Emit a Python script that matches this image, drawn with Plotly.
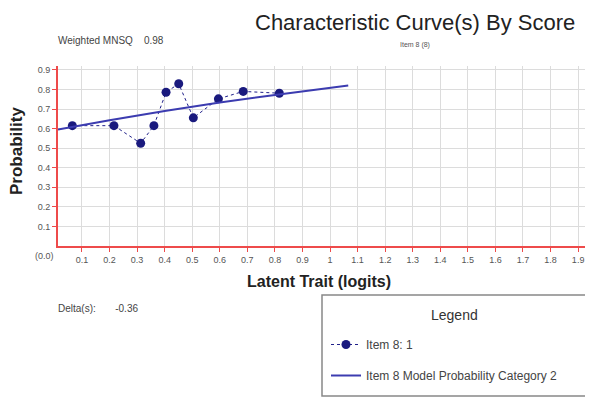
import plotly.graph_objects as go

# Observed data (Item 8: 1)
obs_x = [0.065, 0.216, 0.313, 0.361, 0.405, 0.451, 0.504, 0.595, 0.685, 0.816]
obs_y = [0.615, 0.615, 0.525, 0.615, 0.786, 0.829, 0.655, 0.752, 0.790, 0.781]

# Model probability curve (Category 2)
model_x = [0.013, 0.2, 0.4, 0.6, 0.8, 1.066]
model_y = [0.595, 0.643, 0.690, 0.733, 0.772, 0.820]

x_tickvals = [round(0.1 * i, 1) for i in range(1, 21)]
x_ticktext = ["0.1", "0.2", "0.3", "0.4", "0.5", "0.6", "0.7", "0.8", "0.9", "1",
              "1.1", "1.2", "1.3", "1.4", "1.5", "1.6", "1.7", "1.8", "1.9", "2"]
y_tickvals = [round(0.1 * i, 1) for i in range(1, 10)]
y_ticktext = ["0.1", "0.2", "0.3", "0.4", "0.5", "0.6", "0.7", "0.8", "0.9"]

FONT = "Liberation Sans, Arial, sans-serif"
AXIS_RED = "#ee4b4b"

OFF = 8  # page body margin offset
L, T, W, H = 58 - OFF, 66 - OFF, 535, 180  # plot area in figure pixels
R = 593 - L - W


def px(sx):
    return (sx - OFF - L) / W


def py(sy):
    return (T + H - (sy - OFF)) / H


fig = go.Figure()
fig.add_trace(go.Scatter(
    x=obs_x, y=obs_y, mode="lines+markers", name="Item 8: 1", legendgroup="a",
    line=dict(color="#20208a", width=1, dash="dot"),
    marker=dict(color="#1a1a7e", size=9, symbol="circle"),
))
fig.add_trace(go.Scatter(
    x=model_x, y=model_y, mode="lines", name="Item 8 Model Probability Category 2",
    legendgroup="b",
    line=dict(color="#3c3cb0", width=2),
))

fig.update_layout(
    width=593, height=399,
    margin=dict(l=L, r=R, t=T, b=399 - T - H, autoexpand=False),
    paper_bgcolor="white", plot_bgcolor="white",
    font=dict(family=FONT, color="#333"),
    showlegend=True,
    legend=dict(
        x=px(326), y=py(330), xanchor="left", yanchor="top",
        bgcolor="rgba(0,0,0,0)", borderwidth=0,
        font=dict(family=FONT, size=12, color="#444"),
        traceorder="grouped", tracegroupgap=12, itemwidth=30,
    ),
    xaxis=dict(
        range=[0.013, 1.954], tickvals=x_tickvals, ticktext=x_ticktext,
        showgrid=True, gridcolor="#dcdcdc", gridwidth=1,
        showline=True, linecolor=AXIS_RED, linewidth=2,
        ticks="outside", tickcolor=AXIS_RED, ticklen=4,
        tickfont=dict(family=FONT, size=9, color="#555"),
        zeroline=False, automargin=False,
    ),
    yaxis=dict(
        range=[0, 0.92], tickvals=y_tickvals, ticktext=y_ticktext,
        showgrid=True, gridcolor="#dcdcdc", gridwidth=1,
        showline=True, linecolor=AXIS_RED, linewidth=2,
        ticks="outside", tickcolor=AXIS_RED, ticklen=4,
        tickfont=dict(family=FONT, size=9, color="#555"),
        zeroline=False, automargin=False,
    ),
    shapes=[
        dict(type="rect", xref="paper", yref="paper",
             x0=px(322), x1=px(586), y0=py(396), y1=py(295),
             line=dict(color="#888", width=1.5), fillcolor="rgba(0,0,0,0)", layer="below"),
    ],
    annotations=[
        dict(text="Characteristic Curve(s) By Score", xref="paper", yref="paper",
             x=px(415), y=py(22), xanchor="center", yanchor="middle",
             showarrow=False, font=dict(family=FONT, size=22, color="#222")),
        dict(text="Item 8 (8)", xref="paper", yref="paper",
             x=px(415), y=py(45), xanchor="center", yanchor="middle",
             showarrow=False, font=dict(family=FONT, size=7, color="#555")),
        dict(text="Weighted MNSQ    0.98", xref="paper", yref="paper",
             x=px(56), y=py(40), xanchor="left", yanchor="middle",
             showarrow=False, font=dict(family=FONT, size=10, color="#444")),
        dict(text="Delta(s):       -0.36", xref="paper", yref="paper",
             x=px(56), y=py(308), xanchor="left", yanchor="middle",
             showarrow=False, font=dict(family=FONT, size=10, color="#444")),
        dict(text="(0.0)", xref="paper", yref="paper",
             x=px(44), y=py(256), xanchor="center", yanchor="middle",
             showarrow=False, font=dict(family=FONT, size=9, color="#555")),
        dict(text="Legend", xref="paper", yref="paper",
             x=px(454), y=py(315), xanchor="center", yanchor="middle",
             showarrow=False, font=dict(family=FONT, size=14, color="#333")),
        dict(text="<b>Probability</b>", xref="paper", yref="paper",
             x=px(16), y=py(151), xanchor="center", yanchor="middle", textangle=-90,
             showarrow=False, font=dict(family=FONT, size=17, color="#222")),
        dict(text="<b>Latent Trait (logits)</b>", xref="paper", yref="paper",
             x=px(319), y=py(281), xanchor="center", yanchor="middle",
             showarrow=False, font=dict(family=FONT, size=16, color="#222")),
    ],
)

fig.write_html("out.html")
